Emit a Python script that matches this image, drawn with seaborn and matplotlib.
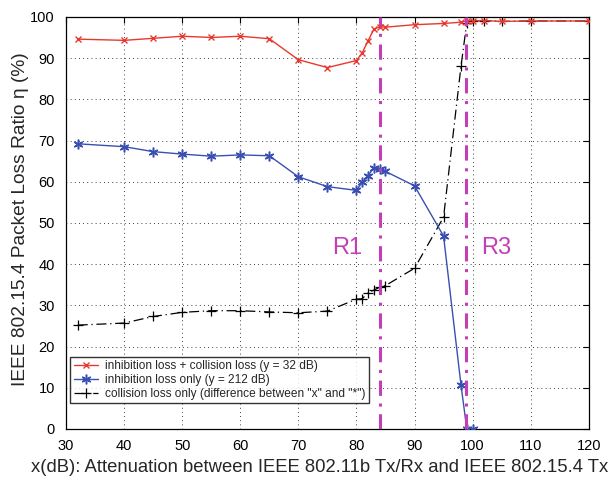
import matplotlib
matplotlib.use("Agg")
import matplotlib.pyplot as plt
import seaborn as sns
import pandas as pd

# Data
x_red = [32, 40, 45, 50, 55, 60, 65, 70, 75, 80, 81, 82, 83, 84, 85, 90, 95, 98, 99, 100, 102, 105, 110, 120]
y_red = [94.6, 94.3, 94.8, 95.3, 95.0, 95.3, 94.7, 89.6, 87.7, 89.4, 91.3, 94.2, 97.0, 97.6, 97.5, 98.1, 98.4, 98.7, 99.0, 99.1, 99.1, 98.9, 99.0, 99.0]

x_blue = [32, 40, 45, 50, 55, 60, 65, 70, 75, 80, 81, 82, 83, 84, 85, 90, 95, 98, 99, 100]
y_blue = [69.2, 68.5, 67.3, 66.7, 66.2, 66.5, 66.3, 61.2, 58.8, 57.9, 59.9, 61.5, 63.4, 63.0, 62.5, 59.0, 46.8, 10.7, 0.0, 0.0]

x_black = [32, 40, 45, 50, 55, 60, 65, 70, 75, 80, 81, 82, 83, 84, 85, 90, 95, 98, 99, 100, 102, 105, 110, 120]
y_black = [25.2, 25.7, 27.3, 28.3, 28.7, 28.7, 28.4, 28.2, 28.6, 31.5, 31.6, 33.1, 33.7, 34.4, 34.8, 39.0, 51.4, 88.0, 98.6, 99.1, 99.1, 98.9, 99.0, 99.0]

labels = [
    'inhibition loss + collision loss (y = 32 dB)',
    'inhibition loss only (y = 212 dB)',
    'collision loss only (difference between "x" and "*")',
]
region_x = [84.0, 98.8]
region_labels = ["R1", "R3"]
region_label_x = [78.4, 104.0]
region_label_y = 44

xticks = list(range(30, 121, 10))
yticks = list(range(0, 101, 10))

sns.set_style("white")
plt.rcParams['font.family'] = ['Liberation Sans', 'DejaVu Sans']

fig = plt.figure(figsize=(6.12, 4.82), dpi=100)
ax = fig.add_axes([0.108, 0.110, 0.854, 0.855])

df_red = pd.DataFrame({"x": x_red, "y": y_red})
df_blue = pd.DataFrame({"x": x_blue, "y": y_blue})
df_black = pd.DataFrame({"x": x_black, "y": y_black})

RED = "#e8382e"
BLUE = "#3a4fb2"
MAG = "#c23fb8"

sns.lineplot(data=df_black, x="x", y="y", ax=ax, color="black", lw=0.9,
             linestyle=(0, (8, 3, 1, 3)), marker="+", markersize=7,
             markeredgewidth=0.9, markeredgecolor="black",
             label=labels[2], zorder=3)
sns.lineplot(data=df_blue, x="x", y="y", ax=ax, color=BLUE, lw=1.0,
             marker=(6, 2, 0), markersize=7, markeredgewidth=1.1,
             markeredgecolor=BLUE, markerfacecolor=BLUE,
             label=labels[1], zorder=4)
sns.lineplot(data=df_red, x="x", y="y", ax=ax, color=RED, lw=1.0,
             marker="x", markersize=5, markeredgewidth=1.0,
             markeredgecolor=RED, label=labels[0], zorder=5)

for xv in region_x:
    ax.axvline(xv, color=MAG, lw=2.2, linestyle=(0, (5, 2.5, 1, 2.5)), zorder=6)
for lx, lt in zip(region_label_x, region_labels):
    ax.text(lx, region_label_y, lt, color=MAG, fontsize=17,
            ha="center", va="center")

ax.set_xlim(30, 120)
ax.set_ylim(0, 100)
ax.set_xticks(xticks)
ax.set_yticks(yticks)
ax.tick_params(direction="in", top=True, right=True, length=4, width=0.8,
               labelsize=10.5, colors="black")
ax.tick_params(axis="x", pad=7)
ax.tick_params(axis="y", pad=8)
ax.grid(True, color="black", linestyle=(0, (1, 4)), lw=0.6)
for s in ax.spines.values():
    s.set_color("black")
    s.set_linewidth(0.9)

ax.set_xlabel("x(dB): Attenuation between IEEE 802.11b Tx/Rx and IEEE 802.15.4 Tx",
              fontsize=13.3)
ax.set_ylabel("IEEE 802.15.4 Packet Loss Ratio η (%)", fontsize=13.8)
ax.xaxis.set_label_coords(0.486, -0.072)
ax.yaxis.set_label_coords(-0.071, 0.51)

handles, lbls = ax.get_legend_handles_labels()
order = [lbls.index(l) for l in labels]
leg = ax.legend([handles[i] for i in order], [lbls[i] for i in order],
                loc="lower left", bbox_to_anchor=(0.008, 0.062),
                fontsize=8.6, frameon=True, fancybox=False, borderpad=0.3,
                labelspacing=0.15, handlelength=2.0, handletextpad=0.6,
                borderaxespad=0)
leg.get_frame().set_edgecolor("black")
leg.get_frame().set_linewidth(1.0)
leg.set_zorder(10)

fig.savefig("out.png", dpi=100)
